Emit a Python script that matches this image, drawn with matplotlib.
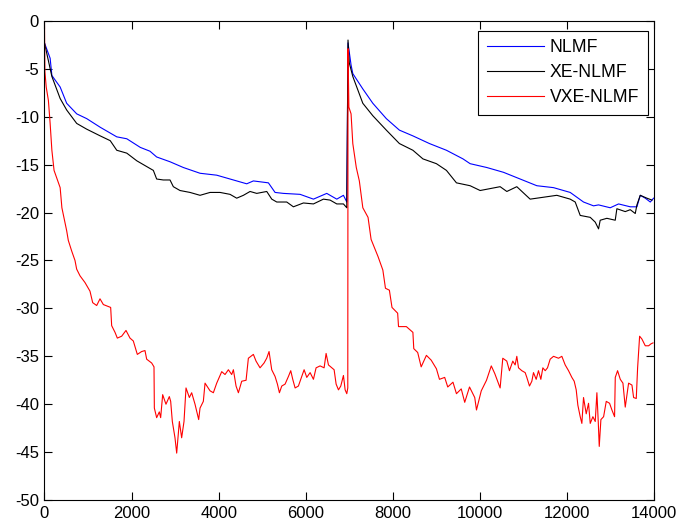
import matplotlib
matplotlib.use('Agg')
import matplotlib.pyplot as plt

plt.rcParams['font.family'] = ['Liberation Sans', 'DejaVu Sans']
plt.rcParams['axes.unicode_minus'] = False

# NLMF (синий): первый участок и участок после скачка на ~7000
nlmf_x1 = [0, 130, 170, 360, 510, 740, 970, 1280, 1660, 1890, 2200, 2423, 2576, 2883,
           3189, 3572, 3955, 4338, 4644, 4797, 5142, 5295, 5487, 5870, 6176, 6482, 6712,
           6865, 6942]
nlmf_y1 = [-2.3, -3.9, -5.7, -6.9, -8.6, -9.7, -10.2, -11.1, -12.1, -12.3, -13.2, -13.6,
           -14.2, -14.7, -15.3, -15.9, -16.1, -16.6, -17.0, -16.7, -16.9, -17.9, -18.0,
           -18.1, -18.6, -18.0, -18.6, -18.2, -18.9]
nlmf_x2 = [6970, 7040, 7080, 7310, 7540, 7850, 8150, 8460, 8840, 9230, 9610, 9774, 10157,
           10540, 10923, 11306, 11689, 12072, 12225, 12378, 12608, 12723, 12991, 13183,
           13451, 13604, 13681, 13796, 13911, 13987]
nlmf_y2 = [-2.3, -4.6, -5.5, -7.1, -8.6, -10.2, -11.4, -12.0, -12.8, -13.5, -14.4, -14.9,
           -15.3, -15.8, -16.5, -17.2, -17.4, -17.9, -18.4, -18.9, -19.3, -19.2, -19.5,
           -19.1, -19.4, -19.4, -18.2, -18.5, -18.9, -18.5]

# XE-NLMF (чёрный)
xe_x1 = [0, 170, 360, 510, 740, 970, 1280, 1510, 1660, 1890, 2120, 2423, 2500, 2576,
         2729, 2883, 2959, 3112, 3342, 3572, 3802, 4032, 4261, 4414, 4568, 4721, 4874,
         5104, 5219, 5334, 5563, 5716, 5946, 6176, 6406, 6559, 6712, 6865, 6942]
xe_y1 = [-2.3, -5.8, -8.1, -9.3, -10.7, -11.3, -12.0, -12.5, -13.5, -13.8, -14.6, -15.4,
         -15.6, -16.5, -16.6, -16.6, -17.3, -17.7, -17.9, -18.2, -17.9, -17.9, -18.1,
         -18.5, -18.2, -17.8, -18.0, -17.8, -18.6, -18.9, -18.9, -19.4, -19.0, -19.1,
         -18.6, -18.7, -19.1, -19.1, -19.5]
xe_x2 = [6970, 7000, 7080, 7310, 7540, 7850, 8150, 8460, 8690, 9000, 9230, 9460, 9774,
         10004, 10234, 10463, 10617, 10846, 11152, 11459, 11765, 12072, 12187, 12302,
         12532, 12647, 12723, 12761, 12914, 13106, 13144, 13336, 13451, 13566, 13604,
         13681, 13834, 13949]
xe_y2 = [-2.0, -4.4, -5.8, -8.6, -9.9, -11.4, -12.8, -13.5, -14.4, -14.9, -15.6, -16.9,
         -17.2, -17.7, -17.5, -17.3, -17.8, -17.3, -18.6, -18.4, -18.2, -18.6, -18.9,
         -20.3, -20.5, -21.0, -21.7, -20.8, -20.6, -20.8, -19.6, -19.9, -19.7, -20.1,
         -19.2, -18.2, -18.5, -18.7]

# VXE-NLMF (красный)
vxe_x1 = [0, 10, 40, 90, 130, 170, 220, 360, 400, 510,
          547, 624, 701, 739, 816, 930, 1045, 1107, 1199, 1275, 1352, 1466, 1520, 1543,
          1620, 1673, 1773, 1872, 1964, 2040, 2132, 2232, 2308, 2347, 2462, 2515, 2523,
          2576, 2637, 2668, 2714, 2790, 2867, 2898, 2936, 2997, 3036, 3097, 3150, 3204,
          3250, 3327, 3380, 3457, 3541,
          3572, 3648, 3687, 3802, 3878, 3955, 4070, 4146, 4223, 4299, 4338, 4399, 4453,
          4529, 4629, 4682, 4797, 4858, 4950, 5042, 5103, 5157, 5218, 5295, 5349, 5395,
          5449, 5525, 5602, 5655, 5701, 5755, 5831, 5908, 5962, 6023, 6100, 6176, 6237,
          6329, 6421, 6467, 6521, 6597, 6651, 6697, 6751, 6804, 6865, 6904, 6942, 6965]
vxe_y1 = [-0.2, -5.3, -6.9, -8.3, -10.7, -13.5, -15.6, -17.4, -19.5, -21.9,
          -22.9, -24.0, -25.0, -25.9, -26.6, -27.3, -28.2, -29.4, -29.7, -29.0, -29.6,
          -29.8, -29.9, -31.8, -32.5, -33.1, -32.9, -32.3, -33.1, -33.4, -34.8, -34.5,
          -34.4, -35.3, -35.7, -36.1, -40.4, -41.4, -40.8, -41.4, -39.0, -40.0, -39.2,
          -39.7, -41.8, -43.5, -45.1, -41.8, -43.5, -41.8, -38.3, -39.3, -38.8, -40.0,
          -41.6,
          -40.4, -39.7, -37.8, -38.6, -38.8, -37.8, -36.6, -36.9, -36.4, -36.9, -36.4,
          -38.1, -38.8, -37.6, -37.5, -35.2, -34.8, -35.5, -36.2, -35.7, -35.2, -34.5,
          -36.4, -37.1, -37.9, -38.8, -38.1, -37.9, -37.1, -36.5, -37.4, -38.3, -38.1,
          -37.1, -36.4, -37.2, -36.7, -37.4, -36.2, -36.0, -36.2, -34.7, -35.9, -36.2,
          -36.4, -37.9, -38.5, -38.1, -37.0, -38.5, -38.9, -38.3]
vxe_x2 = [6970, 6990, 7040, 7080, 7160, 7230, 7310, 7430, 7500, 7660, 7770, 7830, 7920,
          7980, 8110, 8130, 8310, 8460, 8480, 8570, 8650, 8770, 8880, 9000, 9070, 9190,
          9260, 9380, 9460, 9570, 9650, 9760, 9880, 9920, 10030, 10150, 10260, 10340,
          10463, 10524, 10616, 10677, 10754, 10808, 10846, 10885, 10961, 11038, 11076,
          11137, 11191, 11229, 11291, 11344, 11398, 11444, 11498, 11551, 11612, 11689,
          11804, 11880, 11957, 12034, 12110, 12164, 12210, 12248, 12302, 12340, 12378,
          12440, 12493, 12532, 12593, 12647, 12685, 12716, 12739, 12777, 12839, 12900,
          12976, 13030, 13091, 13107, 13160, 13222, 13283, 13336, 13413, 13490, 13528,
          13589, 13620, 13666, 13719, 13796, 13873, 13927, 13973]
vxe_y2 = [-2.9, -9.0, -9.7, -12.8, -15.3, -16.7, -19.5, -20.5, -22.8, -24.6, -26.0, -27.9,
          -28.1, -29.9, -30.5, -31.9, -31.9, -32.5, -34.2, -34.6, -36.1, -34.9, -35.4,
          -36.3, -37.4, -37.2, -38.2, -37.7, -38.9, -38.4, -39.8, -38.2, -39.3, -40.6,
          -38.6, -37.5, -36.0, -36.8,
          -38.3, -35.2, -35.5, -36.5, -35.5, -35.9, -35.0, -36.2, -36.5, -36.7, -37.2,
          -38.1, -37.6, -36.7, -37.4, -36.5, -37.4, -36.2, -36.5, -36.2, -35.3, -35.0,
          -35.2, -35.0, -35.9, -36.5, -37.2, -37.6, -38.5, -40.1, -41.3, -42.0, -39.3,
          -41.0, -39.9, -42.0, -41.3, -41.8, -38.8, -41.8, -44.4, -41.6, -41.3, -39.7,
          -39.9, -40.6, -41.3, -37.2, -36.5, -37.4, -37.8, -40.3, -37.8, -38.0, -39.3,
          -39.4, -36.2, -32.9, -33.2, -33.9, -33.9, -33.7, -33.6]

fig = plt.figure(figsize=(6.8, 5.22), dpi=100)
ax = fig.add_axes([0.0654, 0.042, 0.8966, 0.918])

ax.plot(nlmf_x1 + nlmf_x2, nlmf_y1 + nlmf_y2, color='#0000ff', linewidth=0.8, label='NLMF')
ax.plot(xe_x1 + xe_x2, xe_y1 + xe_y2, color='black', linewidth=0.8, label='XE-NLMF')
ax.plot(vxe_x1 + vxe_x2, vxe_y1 + vxe_y2, color='#ff0000', linewidth=0.8, label='VXE-NLMF')

ax.set_xlim(0, 14000)
ax.set_ylim(-50, 0)
ax.set_xticks(range(0, 14001, 2000))
ax.set_yticks(range(-50, 1, 5))
ax.tick_params(direction='in', top=True, right=True, labelsize=12, length=5.5, pad=4)
for s in ax.spines.values():
    s.set_linewidth(0.8)

leg = ax.legend(loc='upper right', bbox_to_anchor=(0.9897, 0.9797), borderaxespad=0,
                fontsize=12.7, fancybox=False, framealpha=1, edgecolor='black',
                handlelength=3.2, handletextpad=0.35, borderpad=0.5, labelspacing=0.45)
leg.get_frame().set_linewidth(0.8)

plt.savefig('out.png', dpi=100)
